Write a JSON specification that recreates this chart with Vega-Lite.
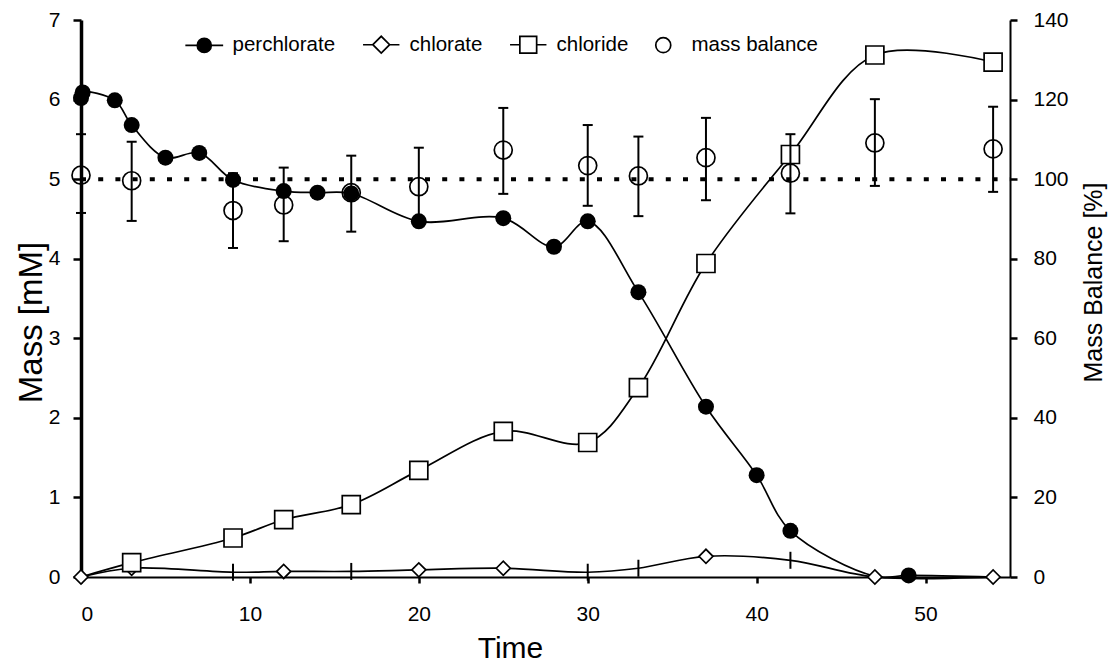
{
  "$schema": "https://vega.github.io/schema/vega-lite/v6.json",
  "width": 929,
  "height": 557,
  "autosize": {"type": "none"},
  "padding": {"left": 81, "top": 20, "right": 105, "bottom": 87},
  "background": "white",
  "config": {
    "view": {"stroke": null},
    "font": "Liberation Sans",
    "axis": {
      "grid": false,
      "domainColor": "black",
      "tickColor": "black",
      "labelColor": "black",
      "titleColor": "black",
      "labelFont": "Liberation Sans",
      "titleFont": "Liberation Sans",
      "labelFontSize": 21,
      "titleFontWeight": "normal"
    },
    "legend": {"labelFont": "Liberation Sans"}
  },
  "datasets": {
    "mass": [
      {"series": "perchlorate", "time": 0, "value": 6.02},
      {"series": "perchlorate", "time": 0.1, "value": 6.09},
      {"series": "perchlorate", "time": 2, "value": 5.99},
      {"series": "perchlorate", "time": 3, "value": 5.68},
      {"series": "perchlorate", "time": 5, "value": 5.27},
      {"series": "perchlorate", "time": 7, "value": 5.33},
      {"series": "perchlorate", "time": 9, "value": 4.99},
      {"series": "perchlorate", "time": 12, "value": 4.85},
      {"series": "perchlorate", "time": 14, "value": 4.83},
      {"series": "perchlorate", "time": 16, "value": 4.82},
      {"series": "perchlorate", "time": 20, "value": 4.47},
      {"series": "perchlorate", "time": 25, "value": 4.51},
      {"series": "perchlorate", "time": 28, "value": 4.15},
      {"series": "perchlorate", "time": 30, "value": 4.47},
      {"series": "perchlorate", "time": 33, "value": 3.58},
      {"series": "perchlorate", "time": 37, "value": 2.14},
      {"series": "perchlorate", "time": 40, "value": 1.28},
      {"series": "perchlorate", "time": 42, "value": 0.58},
      {"series": "perchlorate", "time": 47, "value": 0.01},
      {"series": "perchlorate", "time": 49, "value": 0.02},
      {"series": "perchlorate", "time": 54, "value": 0.0},
      {"series": "chlorate", "time": 0, "value": 0.0},
      {"series": "chlorate", "time": 3, "value": 0.11},
      {"series": "chlorate", "time": 9, "value": 0.06},
      {"series": "chlorate", "time": 12, "value": 0.07},
      {"series": "chlorate", "time": 16, "value": 0.07},
      {"series": "chlorate", "time": 20, "value": 0.09},
      {"series": "chlorate", "time": 25, "value": 0.11},
      {"series": "chlorate", "time": 30, "value": 0.06},
      {"series": "chlorate", "time": 33, "value": 0.11},
      {"series": "chlorate", "time": 37, "value": 0.26},
      {"series": "chlorate", "time": 42, "value": 0.21},
      {"series": "chlorate", "time": 47, "value": 0.0},
      {"series": "chlorate", "time": 54, "value": 0.0},
      {"series": "chloride", "time": 0, "value": 0.0},
      {"series": "chloride", "time": 3, "value": 0.18},
      {"series": "chloride", "time": 9, "value": 0.49},
      {"series": "chloride", "time": 12, "value": 0.72},
      {"series": "chloride", "time": 16, "value": 0.91},
      {"series": "chloride", "time": 20, "value": 1.34},
      {"series": "chloride", "time": 25, "value": 1.83},
      {"series": "chloride", "time": 30, "value": 1.69},
      {"series": "chloride", "time": 33, "value": 2.38},
      {"series": "chloride", "time": 37, "value": 3.94},
      {"series": "chloride", "time": 42, "value": 5.31},
      {"series": "chloride", "time": 47, "value": 6.56},
      {"series": "chloride", "time": 54, "value": 6.47}
    ],
    "balance": [
      {"time": 0, "mb": 101.0, "lo": 91.5, "hi": 111.3},
      {"time": 3, "mb": 99.6, "lo": 89.5, "hi": 109.4},
      {"time": 9, "mb": 92.1, "lo": 82.7, "hi": 101.5},
      {"time": 12, "mb": 93.5, "lo": 84.4, "hi": 102.9},
      {"time": 16, "mb": 96.6, "lo": 86.8, "hi": 105.9},
      {"time": 20, "mb": 98.1, "lo": 88.3, "hi": 107.9},
      {"time": 25, "mb": 107.3, "lo": 96.3, "hi": 117.9},
      {"time": 30, "mb": 103.4, "lo": 93.3, "hi": 113.6},
      {"time": 33, "mb": 100.8, "lo": 90.7, "hi": 110.7},
      {"time": 37, "mb": 105.4, "lo": 94.7, "hi": 115.4},
      {"time": 42, "mb": 101.5, "lo": 91.4, "hi": 111.3},
      {"time": 47, "mb": 109.1, "lo": 98.3, "hi": 120.1},
      {"time": 54, "mb": 107.6, "lo": 96.8, "hi": 118.2}
    ]
  },
  "layer": [
    {
      "data": {"name": "mass"},
      "encoding": {
        "x": {
          "field": "time", "type": "quantitative",
          "scale": {"domain": [0, 55], "nice": false, "zero": false},
          "axis": {
            "values": [0, 10, 20, 30, 40, 50],
            "tickSize": 6, "tickWidth": 2.5, "domainWidth": 2,
            "labelPadding": 20, "title": "Time", "titleFontSize": 30,
            "titleBaseline": "alphabetic", "titleX": 429, "titleY": 80
          }
        },
        "y": {
          "field": "value", "type": "quantitative",
          "scale": {"domain": [0, 7], "nice": false},
          "axis": {
            "orient": "left",
            "values": [0, 1, 2, 3, 4, 5, 6, 7],
            "tickSize": 8, "tickWidth": 2.5, "domainWidth": 3.5,
            "labelPadding": 13, "title": "Mass [mM]", "titleFontSize": 33,
            "titleAngle": 270, "titleBaseline": "alphabetic", "titleX": -40, "titleY": 302
          }
        }
      },
      "layer": [
        {
          "mark": {"type": "line", "interpolate": "catmull-rom", "color": "black", "strokeWidth": 1.7},
          "encoding": {"detail": {"field": "series"}}
        },
        {
          "transform": [{"filter": "datum.series == 'perchlorate' && datum.time != 47 && datum.time != 54"}],
          "mark": {"type": "point", "shape": "circle", "size": 256, "filled": true, "color": "black", "opacity": 1}
        },
        {
          "transform": [{"filter": "datum.series == 'chlorate' && indexof([9, 16, 30, 33, 42], datum.time) < 0"}],
          "mark": {"type": "point", "shape": "diamond", "size": 196, "fill": "white", "stroke": "black", "strokeWidth": 1.7, "opacity": 1}
        },
        {
          "transform": [{"filter": "datum.series == 'chlorate' && indexof([9, 16, 30, 33, 42], datum.time) >= 0"}],
          "mark": {"type": "point", "shape": "M0,-1V1", "size": 289, "filled": false, "stroke": "black", "strokeWidth": 2, "opacity": 1}
        },
        {
          "transform": [{"filter": "datum.series == 'chloride' && datum.time != 0"}],
          "mark": {"type": "point", "shape": "square", "size": 324, "fill": "white", "stroke": "black", "strokeWidth": 1.7, "opacity": 1}
        }
      ]
    },
    {
      "layer": [
        {
          "data": {"values": [{"reference": 100}]},
          "mark": {"type": "rule", "color": "black", "strokeWidth": 4, "strokeDash": [5, 12.2], "strokeCap": "butt"},
          "encoding": {
            "y": {
              "field": "reference", "type": "quantitative",
              "scale": {"domain": [0, 140], "nice": false},
              "axis": {
                "orient": "right", "values": [0, 20, 40, 60, 80, 100, 120, 140],
                "tickSize": 7, "tickWidth": 2.5, "domainWidth": 2,
                "labelPadding": 16, "title": "Mass Balance [%]", "titleFontSize": 25,
                "titleAngle": 270, "titleBaseline": "alphabetic", "titleX": 91, "titleY": 262
              }
            },
            "x": {"datum": 0},
            "x2": {"datum": 55}
          }
        },
        {
          "data": {"name": "balance"},
          "mark": {"type": "rule", "color": "black", "strokeWidth": 2},
          "encoding": {
            "x": {"field": "time", "type": "quantitative"},
            "y": {
              "field": "lo", "type": "quantitative",
              "axis": {
                "orient": "right", "values": [0, 20, 40, 60, 80, 100, 120, 140],
                "tickSize": 7, "tickWidth": 2.5, "domainWidth": 2,
                "labelPadding": 16, "title": "Mass Balance [%]", "titleFontSize": 25,
                "titleAngle": 270, "titleBaseline": "alphabetic", "titleX": 91, "titleY": 262
              }
            },
            "y2": {"field": "hi"}
          }
        },
        {
          "data": {"name": "balance"},
          "mark": {"type": "tick", "orient": "horizontal", "size": 10, "thickness": 2, "color": "black", "opacity": 1},
          "encoding": {
            "x": {"field": "time", "type": "quantitative"},
            "y": {
              "field": "lo", "type": "quantitative",
              "axis": {
                "orient": "right", "values": [0, 20, 40, 60, 80, 100, 120, 140],
                "tickSize": 7, "tickWidth": 2.5, "domainWidth": 2,
                "labelPadding": 16, "title": "Mass Balance [%]", "titleFontSize": 25,
                "titleAngle": 270, "titleBaseline": "alphabetic", "titleX": 91, "titleY": 262
              }
            }
          }
        },
        {
          "data": {"name": "balance"},
          "mark": {"type": "tick", "orient": "horizontal", "size": 10, "thickness": 2, "color": "black", "opacity": 1},
          "encoding": {
            "x": {"field": "time", "type": "quantitative"},
            "y": {
              "field": "hi", "type": "quantitative",
              "axis": {
                "orient": "right", "values": [0, 20, 40, 60, 80, 100, 120, 140],
                "tickSize": 7, "tickWidth": 2.5, "domainWidth": 2,
                "labelPadding": 16, "title": "Mass Balance [%]", "titleFontSize": 25,
                "titleAngle": 270, "titleBaseline": "alphabetic", "titleX": 91, "titleY": 262
              }
            }
          }
        },
        {
          "data": {"name": "balance"},
          "mark": {"type": "point", "shape": "circle", "size": 324, "filled": false, "stroke": "black", "strokeWidth": 1.7, "opacity": 1},
          "encoding": {
            "x": {"field": "time", "type": "quantitative"},
            "y": {
              "field": "mb", "type": "quantitative",
              "axis": {
                "orient": "right", "values": [0, 20, 40, 60, 80, 100, 120, 140],
                "tickSize": 7, "tickWidth": 2.5, "domainWidth": 2,
                "labelPadding": 16, "title": "Mass Balance [%]", "titleFontSize": 25,
                "titleAngle": 270, "titleBaseline": "alphabetic", "titleX": 91, "titleY": 262
              }
            }
          }
        }
      ]
    },
    {
      "data": {"name": "mass"},
      "transform": [{"filter": "datum.time < 0"}],
      "mark": {"type": "point", "strokeWidth": 1.7, "opacity": 1},
      "encoding": {
        "x": {"field": "time", "type": "quantitative"},
        "y": {"field": "value", "type": "quantitative", "scale": {"domain": [0, 7], "nice": false}, "axis": null},
        "shape": {
          "field": "series", "type": "nominal",
          "scale": {
            "domain": ["perchlorate", "chlorate", "chloride", "mass balance"],
            "range": [
              "M-2.7,0H-1M1,0H2.7M-1,0A1,1,0,1,1,1,0A1,1,0,1,1,-1,0Z",
              "M-2.6,0H-1.2M1.2,0H2.6M-1.2,0L0,-1.2L1.2,0L0,1.2Z",
              "M-2.6,0H-1.2M1.2,0H2.6M-1.2,-1.2H1.2V1.2H-1.2Z",
              "M-1.07,0A1.07,1.07,0,1,1,1.07,0A1.07,1.07,0,1,1,-1.07,0Z"
            ]
          },
          "legend": {
            "title": null, "orient": "none", "direction": "horizontal",
            "legendX": 113, "legendY": 14,
            "symbolSize": 196, "symbolStrokeWidth": 1.7, "symbolOpacity": 1,
            "labelFontSize": 20.5, "labelOffset": 18, "columnPadding": 23, "labelColor": "black"
          }
        },
        "fill": {
          "field": "series", "type": "nominal",
          "scale": {
            "domain": ["perchlorate", "chlorate", "chloride", "mass balance"],
            "range": ["black", "white", "white", "white"]
          },
          "legend": {
            "title": null, "orient": "none", "direction": "horizontal",
            "legendX": 113, "legendY": 14,
            "symbolSize": 196, "symbolStrokeWidth": 1.7, "symbolOpacity": 1,
            "labelFontSize": 20.5, "labelOffset": 18, "columnPadding": 23, "labelColor": "black"
          }
        },
        "stroke": {
          "field": "series", "type": "nominal",
          "scale": {
            "domain": ["perchlorate", "chlorate", "chloride", "mass balance"],
            "range": ["black", "black", "black", "black"]
          },
          "legend": {
            "title": null, "orient": "none", "direction": "horizontal",
            "legendX": 113, "legendY": 14,
            "symbolSize": 196, "symbolStrokeWidth": 1.7, "symbolOpacity": 1,
            "labelFontSize": 20.5, "labelOffset": 18, "columnPadding": 23, "labelColor": "black"
          }
        }
      }
    }
  ],
  "resolve": {"scale": {"y": "independent", "shape": "independent", "fill": "independent", "stroke": "independent"}}
}
